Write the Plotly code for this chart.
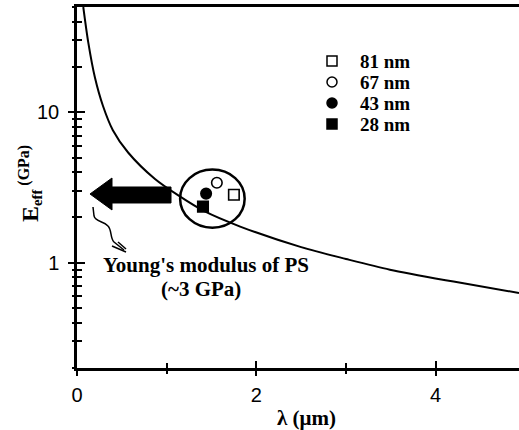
import plotly.graph_objects as go
import math

# ---- data ----
curve_lambda = [0.07, 0.126, 0.20, 0.29, 0.40, 0.57, 0.87, 1.13, 1.42, 1.82, 2.5, 3.0, 3.49, 4.2, 4.93]
curve_E = [50, 29, 17, 11, 7.6, 5.4, 3.6, 2.8, 2.2, 1.74, 1.27, 1.06, 0.90, 0.75, 0.63]

series_names = ["81 nm", "67 nm", "43 nm", "28 nm"]
series_lambda = [1.75, 1.56, 1.44, 1.405]
series_E = [2.83, 3.40, 2.88, 2.36]
series_symbols = ["square-open", "circle-open", "circle", "square"]

x_tickvals = [0, 2, 4]
x_ticktext = ["0", "2", "4"]
x_minor = [1, 3]
y_tickvals = [1, 10]
y_ticktext = ["1", "10"]
y_minor = [0.2, 0.3, 0.4, 0.5, 0.6, 0.7, 0.8, 0.9, 2, 3, 4, 5, 6, 7, 8, 9, 20, 30, 40, 50]

X_RANGE = [0, 4.93]
Y_RANGE = [math.log10(0.2), math.log10(50)]

W, H = 519, 430
ML, MR, MT, MB = 77, 0, 7, 62

def px2paper(px, py):
    return ((px - ML) / (W - ML - MR), (H - MB - py) / (H - MT - MB))

def path_from_px(cmds):
    out = []
    for c in cmds:
        if isinstance(c, str):
            out.append(c)
        else:
            xp, yp = px2paper(*c)
            out.append(f"{xp:.4f},{yp:.4f}")
    return " ".join(out)

fig = go.Figure()

fig.add_trace(go.Scatter(x=curve_lambda, y=curve_E, mode="lines",
                         line=dict(color="black", width=2, shape="spline", smoothing=0.8),
                         showlegend=False, hoverinfo="skip"))

for name, lx, ey, sym in zip(series_names, series_lambda, series_E, series_symbols):
    fig.add_trace(go.Scatter(x=[lx], y=[ey], mode="markers", name=name, showlegend=False,
                             marker=dict(symbol=sym, size=10.5, color="black",
                                         line=dict(color="black", width=1.6))))

# overlay axes for outward ticks (so ticks cross the axis line)
fig.add_trace(go.Scatter(x=[], y=[], xaxis="x2", yaxis="y2", showlegend=False))

tickfont = dict(family="Liberation Sans, Arial", size=20, color="black")
fig.update_layout(
    width=W, height=H,
    margin=dict(l=ML, r=MR, t=MT, b=MB, pad=0),
    paper_bgcolor="white", plot_bgcolor="white",
    showlegend=False,
    xaxis=dict(range=X_RANGE, showgrid=False, zeroline=False,
               showline=True, linecolor="black", linewidth=2.5, mirror=True,
               tickmode="array", tickvals=x_tickvals, ticktext=x_ticktext,
               ticks="inside", ticklen=7, tickwidth=2, tickcolor="black",
               minor=dict(tickmode="array", tickvals=x_minor, ticks="inside",
                          ticklen=5, tickwidth=2, tickcolor="black", showgrid=False),
               tickfont=tickfont, ticklabelstandoff=7),
    yaxis=dict(type="log", range=Y_RANGE, showgrid=False, zeroline=False,
               showline=True, linecolor="black", linewidth=2.5,
               tickmode="array", tickvals=y_tickvals, ticktext=y_ticktext,
               ticks="inside", ticklen=8, tickwidth=2, tickcolor="black",
               minor=dict(tickmode="array", tickvals=y_minor, ticks="inside",
                          ticklen=5, tickwidth=2, tickcolor="black", showgrid=False),
               tickfont=tickfont, ticklabelstandoff=11),
    xaxis2=dict(range=X_RANGE, overlaying="x", showgrid=False, zeroline=False,
                showline=False, showticklabels=False,
                tickmode="array", tickvals=x_tickvals,
                ticks="outside", ticklen=7, tickwidth=2, tickcolor="black",
                minor=dict(tickmode="array", tickvals=x_minor, ticks="outside",
                           ticklen=5, tickwidth=2, tickcolor="black", showgrid=False)),
    yaxis2=dict(type="log", range=Y_RANGE, overlaying="y", showgrid=False, zeroline=False,
                showline=False, showticklabels=False,
                tickmode="array", tickvals=y_tickvals,
                ticks="outside", ticklen=8, tickwidth=2, tickcolor="black",
                minor=dict(tickmode="array", tickvals=y_minor, ticks="outside",
                           ticklen=4, tickwidth=2, tickcolor="black", showgrid=False)),
)

# big circle around the data points
fig.add_shape(type="circle", xref="x", yref="y",
              x0=1.15, x1=1.87, y0=1.71, y1=4.16,
              line=dict(color="black", width=2.5))

# thick arrow pointing to the axis
arrow = path_from_px(["M", (90, 194), "L", (112, 178), "L", (112, 187), "L", (171, 187),
                      "L", (171, 203), "L", (112, 203), "L", (112, 210), "Z"])
fig.add_shape(type="path", xref="paper", yref="paper", path=arrow,
              fillcolor="black", line=dict(color="black", width=1))

# wavy pointer
wave = path_from_px(["M", (93, 207), "L", (94, 216), "C", (95, 222), (104, 221), (108, 226),
                     "C", (112, 230), (110, 238), (114, 242), "L", (124, 250)])
fig.add_shape(type="path", xref="paper", yref="paper", path=wave,
              line=dict(color="black", width=1.5))
head1 = path_from_px(["M", (112, 246), "L", (126, 252)])
head2 = path_from_px(["M", (118, 242), "L", (126, 249)])
for hp in (head1, head2):
    fig.add_shape(type="path", xref="paper", yref="paper", path=hp,
                  line=dict(color="black", width=1.5))

serif = "Liberation Serif, Times New Roman"
def add_px_text(text, px, py, size, xanchor="center", angle=0):
    xp, yp = px2paper(px, py)
    fig.add_annotation(x=xp, y=yp, xref="paper", yref="paper", text=text,
                       showarrow=False, xanchor=xanchor, yanchor="middle",
                       textangle=angle,
                       font=dict(family=serif, size=size, color="black"))

# manual legend (symbols + bold labels)
legend_rows_py = [61, 82, 103, 124]
LEG_X, HALF = 332, 5
for name, sym, py in zip(series_names, series_symbols, legend_rows_py):
    x0, y0 = px2paper(LEG_X - HALF, py + HALF)
    x1, y1 = px2paper(LEG_X + HALF, py - HALF)
    filled = not sym.endswith("open")
    kind = "rect" if sym.startswith("square") else "circle"
    fig.add_shape(type=kind, xref="paper", yref="paper", x0=x0, y0=y0, x1=x1, y1=y1,
                  fillcolor="black" if filled else "white",
                  line=dict(color="black", width=1.5))
    add_px_text(f"<b>{name}</b>", 358, py, 19, xanchor="left")

add_px_text("<b>Young's modulus of PS</b>", 206, 265, 21)
add_px_text("<b>(~3 GPa)</b>", 201, 289, 21)
add_px_text("<b>λ (μm)</b>", 306, 418, 21)
add_px_text("<b><span style='font-size:24px'>E</span><sub>eff</sub>"
            "<sup><span style='font-size:16px'> (GPa)</span></sup></b>",
            30, 184, 21, angle=-90)

fig.write_html("out.html")
